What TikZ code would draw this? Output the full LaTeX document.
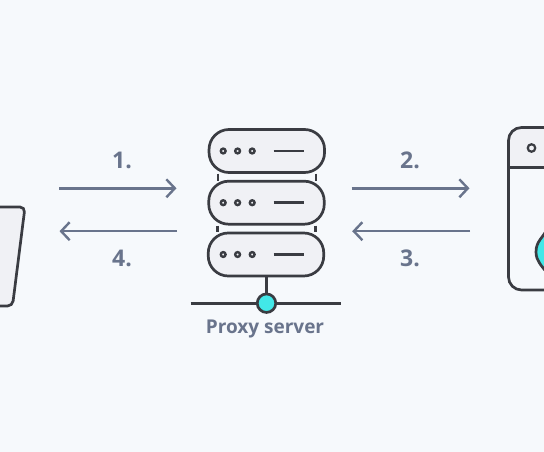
\documentclass[tikz,border=0pt]{standalone}
\usepackage{fontspec}
\setmainfont{Open Sans}
\usetikzlibrary{arrows.meta}
\definecolor{bgc}{HTML}{F6F9FC}
\definecolor{ink}{HTML}{3A3C42}
\definecolor{panel}{HTML}{F0F1F5}
\definecolor{slate}{HTML}{69748C}
\definecolor{teal}{HTML}{42E8E8}
\tikzset{
  rack/.style={draw=ink,fill=panel,line width=2.7pt,rounded corners=20pt,minimum width=115.5pt,minimum height=43pt,inner sep=0pt},
  led/.style={circle,draw=ink,line width=2.4pt,minimum size=4.8pt,inner sep=0pt},
  wire/.style={draw=ink,line width=2.6pt},
  flow/.style={draw=slate,line width=2.4pt,-{Straight Barb[length=8.5pt,width=18pt,line width=2.4pt]}},
  lbl/.style={text=slate,font=\fontsize{23}{26}\selectfont\bfseries,inner sep=0pt}
}
\begin{document}
\begin{tikzpicture}[x=1pt,y=-1pt]
\path[use as bounding box,fill=bgc] (0,0) rectangle (544,452);
\begin{scope}
\clip (0,0) rectangle (544,452);
\path[draw=ink,fill=panel,line width=2.7pt,rounded corners=5pt] (-20,207) -- (25,207) -- (12.5,306) -- (-20,306) -- cycle;
\path[fill=panel,rounded corners=13pt] (508.5,127.5) -- (508.5,190) -- (600,190) -- (600,127.5) -- cycle;
\path[fill=bgc] (508.5,167.7) rectangle (600,200);
\path[draw=ink,line width=2.7pt,rounded corners=13pt] (508.5,127.5) rectangle (600,290);
\draw[wire] (508.5,167.7) -- (544,167.7);
\node[circle,draw=ink,line width=2.2pt,minimum size=7.5pt,inner sep=0pt] (hole) at (531.5,148) {};
\path[draw=ink,fill=teal,line width=2.7pt] (547,229) .. controls (543,238) and (536,241) .. (536,252) .. controls (536,261) and (542,266) .. (547,273) -- cycle;
\end{scope}
\node[rack] (r1) at (266.8,151) {};
\node[rack] (r2) at (266.5,202.7) {};
\node[rack] (r3) at (266,254.5) {};
\foreach \r/\y in {1/151,2/202.7,3/254.5}{
  \node[led] (a\r) at (223.2,\y) {};
  \node[led] (b\r) at (237.6,\y) {};
  \node[led] (c\r) at (252.2,\y) {};
  \coordinate (s\r) at (273.5,\y);
  \coordinate (e\r) at (304,\y);
  \draw[wire] (s\r) -- (e\r);
}
\coordinate (l1t) at (217.8,173.5); \coordinate (l1b) at (217.8,180.5);
\coordinate (r1t) at (315.8,173.5); \coordinate (r1b) at (315.8,180.5);
\coordinate (l2t) at (217.5,225.5); \coordinate (l2b) at (217.5,232);
\coordinate (r2t) at (315.5,225.5); \coordinate (r2b) at (315.5,232);
\draw[wire] (l1t)--(l1b) (r1t)--(r1b) (l2t)--(l2b) (r2t)--(r2b);
\coordinate (busl) at (190.5,303.2);
\coordinate (busr) at (341,303.2);
\node[circle,minimum size=18.5pt,inner sep=0pt] (hub) at (266.5,303.2) {};
\draw[wire] (busl) -- (hub);
\draw[wire] (hub) -- (busr);
\draw[wire] (r3.south -| hub) -- (hub);
\node[circle,draw=ink,fill=teal,line width=2.7pt,minimum size=18.5pt,inner sep=0pt] at (hub) {};
\node[lbl,font=\fontsize{19}{22}\selectfont\bfseries] (cap) at (265,328.5) {Proxy server};
\foreach \n/\xa/\xb/\y in {f1/59/176.5/188.3,f2/351.7/469.5/188.3,f4/177/59.5/231.2,f3/470/352.2/231.2}{
  \coordinate (\n a) at (\xa,\y); \coordinate (\n b) at (\xb,\y);
  \draw[flow] (\n a) -- (\n b);
}
\node[lbl] (n1) at (122,160.5) {1.};
\node[lbl] (n2) at (410,160.5) {2.};
\node[lbl] (n3) at (410,258.5) {3.};
\node[lbl] (n4) at (122,258.5) {4.};
\end{tikzpicture}
\end{document}
